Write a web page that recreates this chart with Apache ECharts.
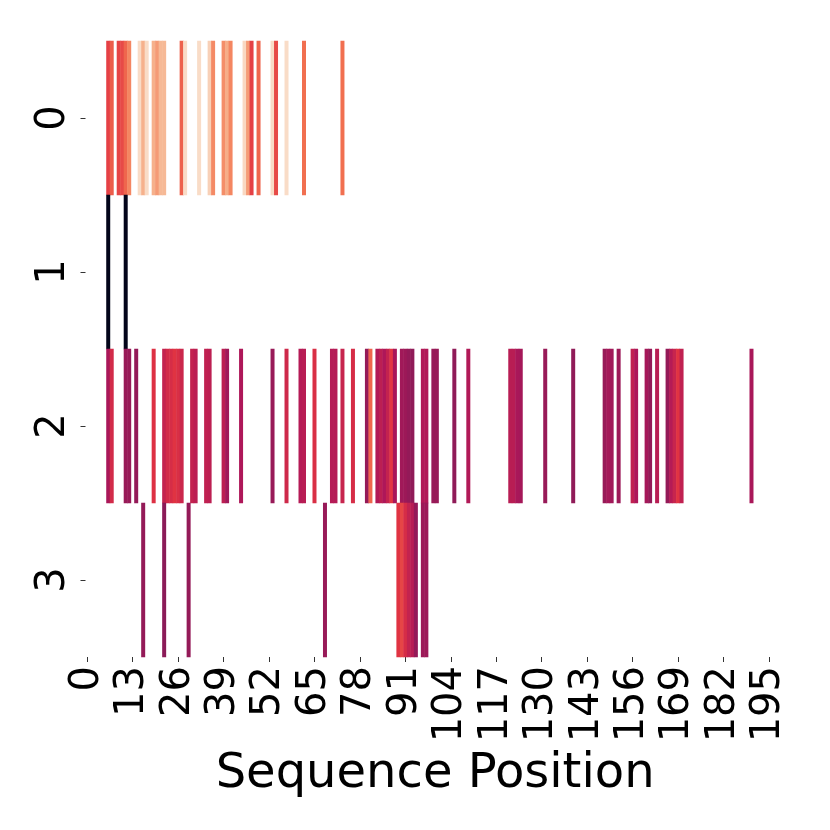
<!DOCTYPE html>
<html>
<head>
<meta charset="utf-8">
<script src="https://cdn.jsdelivr.net/npm/echarts@6/dist/echarts.min.js"></script>
<style>html,body{margin:0;padding:0;background:#fff}#c{width:830px;height:830px}</style>
</head>
<body>
<div id="c"></div>
<script>
// ---- data ----
const nPositions = 200;
const positions = Array.from({length: nPositions}, (_, i) => String(i));
const rowLabels = ['0', '1', '2', '3'];
const tickStep = 13;

const row0Cols = [6, 7, 9, 10, 11, 12, 15, 16, 17, 19, 20, 21, 22, 27, 28, 32, 35, 36, 39, 40, 41, 45, 46, 47, 49, 53, 54, 57, 62, 73];
const row0Vals = [0.60, 0.66, 0.61, 0.62, 0.68, 0.75, 0.96, 0.85, 0.96, 0.85, 0.80, 0.87, 0.87, 0.67, 0.96, 0.96, 0.93, 0.76, 0.77, 0.84, 0.75, 0.95, 0.80, 0.60, 0.68, 0.96, 0.62, 0.96, 0.70, 0.70];

const row1Cols = [6, 11];
const row1Vals = [0.0, 0.0];

const row2Cols = [6, 7, 11, 12, 14, 19, 22, 23, 24, 25, 26, 27, 30, 31, 34, 35, 39, 40, 44, 53, 57, 61, 62, 65, 70, 71, 73, 76, 80, 81, 83, 84, 85, 86, 87, 88, 90, 91, 92, 93, 96, 97, 99, 100, 105, 109, 121, 122, 123, 124, 131, 139, 148, 149, 150, 152, 156, 157, 160, 161, 163, 166, 167, 168, 169, 170, 190];
const row2Vals = [0.42, 0.53, 0.38, 0.38, 0.37, 0.56, 0.49, 0.53, 0.54, 0.57, 0.55, 0.51, 0.49, 0.47, 0.48, 0.47, 0.47, 0.40, 0.43, 0.38, 0.52, 0.45, 0.46, 0.55, 0.45, 0.45, 0.50, 0.54, 0.37, 0.68, 0.44, 0.47, 0.43, 0.49, 0.58, 0.42, 0.40, 0.39, 0.37, 0.36, 0.44, 0.44, 0.38, 0.38, 0.36, 0.44, 0.46, 0.46, 0.42, 0.41, 0.38, 0.36, 0.38, 0.41, 0.40, 0.39, 0.48, 0.43, 0.41, 0.37, 0.46, 0.37, 0.45, 0.50, 0.57, 0.48, 0.42];

const row3Cols = [16, 22, 29, 68, 89, 90, 91, 92, 93, 94, 96, 97];
const row3Vals = [0.37, 0.35, 0.37, 0.38, 0.57, 0.61, 0.54, 0.49, 0.46, 0.37, 0.39, 0.39];

const rocketStops = ['#03051a', '#35193e', '#701f57', '#ad1759', '#e13342', '#f37651', '#f6b48f', '#faebdd'];

// ---- build ----
const rows = [[row0Cols, row0Vals], [row1Cols, row1Vals], [row2Cols, row2Vals], [row3Cols, row3Vals]];
const data = [];
rows.forEach(([cols, vals], r) => {
  cols.forEach((c, i) => data.push([c, r, vals[i]]));
});

const showTick = (idx) => idx % tickStep === 0;
const FONT = 'DejaVu Sans';

const chart = echarts.init(document.getElementById('c'), null, {renderer: 'canvas'});
chart.setOption({
  animation: false,
  backgroundColor: '#ffffff',
  grid: {left: 85.5, right: 45.3, top: 41, bottom: 173, containLabel: false},
  xAxis: {
    type: 'category',
    data: positions,
    splitArea: {show: false},
    splitLine: {show: false},
    axisLine: {show: false},
    axisTick: {show: true, alignWithLabel: true, interval: showTick, length: 5, lineStyle: {color: '#333', width: 1}},
    axisLabel: {interval: showTick, rotate: 90, fontSize: 40, fontFamily: FONT, color: '#000', margin: 9},
    name: 'Sequence Position',
    nameLocation: 'middle',
    nameGap: 75,
    nameTextStyle: {fontSize: 48, fontFamily: FONT, color: '#000'}
  },
  yAxis: {
    type: 'category',
    data: rowLabels,
    inverse: true,
    splitArea: {show: false},
    splitLine: {show: false},
    axisLine: {show: false},
    axisTick: {show: true, alignWithLabel: true, length: 5, lineStyle: {color: '#333', width: 1}},
    axisLabel: {rotate: 90, fontSize: 40, fontFamily: FONT, color: '#000', margin: 12}
  },
  visualMap: {
    show: false,
    min: 0,
    max: 1,
    inRange: {color: rocketStops}
  },
  series: [{
    type: 'heatmap',
    data: data,
    itemStyle: {borderWidth: 0},
    emphasis: {disabled: true},
    progressive: 0
  }]
});
</script>
</body>
</html>
